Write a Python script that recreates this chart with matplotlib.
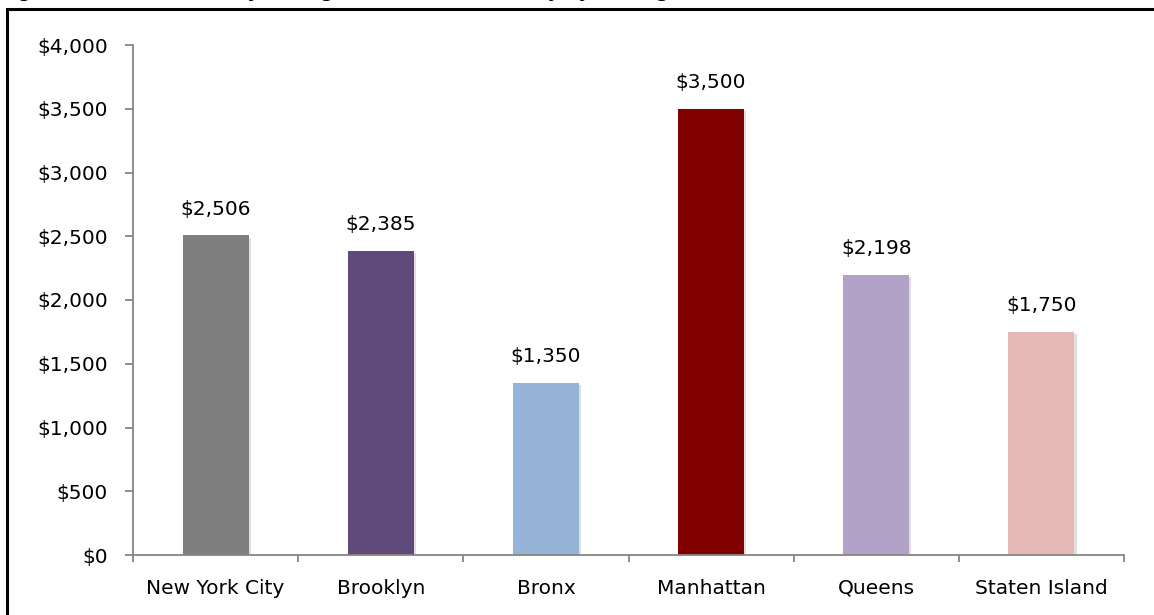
import matplotlib.pyplot as plt
import matplotlib.patheffects as pe
from matplotlib.patches import Rectangle
from matplotlib.ticker import FuncFormatter

# datos
boroughs = ['New York City', 'Brooklyn', 'Bronx', 'Manhattan', 'Queens', 'Staten Island']
rent = [2506, 2385, 1350, 3500, 2198, 1750]
colors = ['#7f7f7f', '#604a7b', '#95b3d7', '#800000', '#b3a2c7', '#e6b9b8']
title = 'Figure 2: Median Monthly Asking Rent in New York City by Borough (December 2014)'

plt.rcParams['font.family'] = ['DejaVu Sans']

W, H = 1154, 615
fig = plt.figure(figsize=(W / 100, H / 100), dpi=100)
ax = fig.add_axes([133 / W, 1 - 555 / H, (1124 - 133) / W, (555 - 45) / H])

x = range(len(boroughs))
bars = ax.bar(x, rent, width=0.4, color=colors, zorder=2)
for b in bars:
    # sombra suave como en el original
    b.set_path_effects([pe.SimplePatchShadow(offset=(1.5, -1.5), alpha=0.18, shadow_rgbFace='#555555'),
                        pe.Normal()])
for b, v in zip(bars, rent):
    ax.annotate(f'${v:,}', (b.get_x() + b.get_width() / 2, v),
                xytext=(0, 12), textcoords='offset points',
                ha='center', va='bottom', fontsize=14.5, color='black')

ax.set_xlim(-0.5, len(boroughs) - 0.5)
ax.set_ylim(0, 4000)
ax.set_yticks(range(0, 4001, 500))
ax.yaxis.set_major_formatter(FuncFormatter(lambda v, p: f'${v:,.0f}'))
ax.set_xticks(list(x))
ax.set_xticklabels(boroughs, va='baseline')
ax.set_xticks([i - 0.5 for i in range(len(boroughs) + 1)], minor=True)

for s in ['top', 'right']:
    ax.spines[s].set_visible(False)
for s in ['left', 'bottom']:
    ax.spines[s].set_color('#868686')
    ax.spines[s].set_linewidth(1.3)

ax.tick_params(axis='y', length=6, width=1.3, color='#868686', labelsize=14.5, pad=12)
ax.tick_params(axis='x', which='major', length=0, labelsize=14.5, pad=28)
ax.tick_params(axis='x', which='minor', length=5, width=1.3, color='#868686')

# marco negro exterior (cortado a la derecha y abajo)
fig.patches.append(Rectangle((7 / W, -0.1), 1.2, 1 - 9 / H + 0.1,
                             transform=fig.transFigure, fill=False,
                             edgecolor='black', linewidth=2.2))

# titulo cortado arriba, como en la imagen original
fig.text(0.0, 1 + 3 / H, title, ha='left', va='baseline',
         fontsize=13, fontweight='bold')

fig.savefig('out.png', dpi=100)
